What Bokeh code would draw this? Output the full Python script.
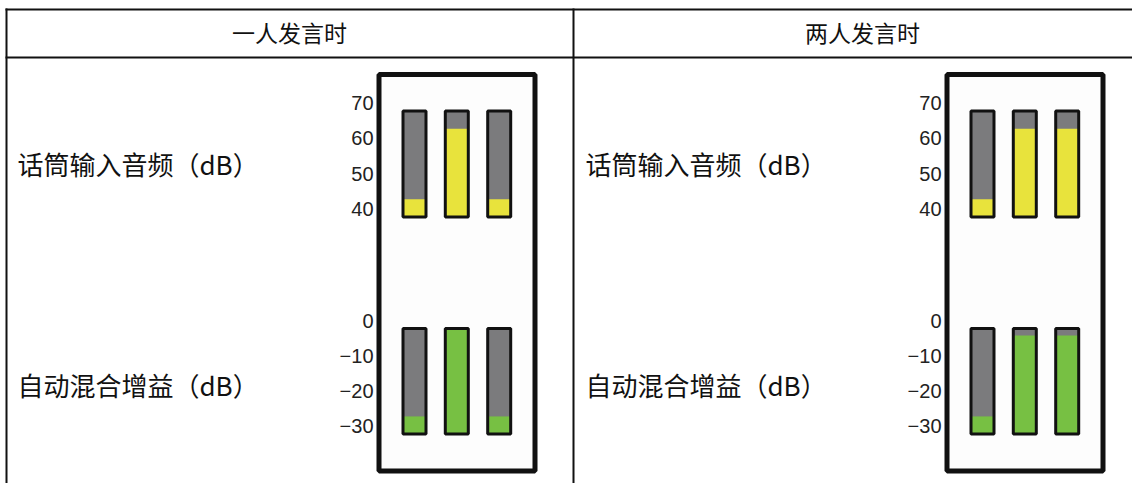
from bokeh.plotting import figure
from bokeh.models import Range1d
from bokeh.embed import file_html
from bokeh.resources import INLINE
from bokeh.core.properties import value

# ---------------- data ----------------
panel_titles = ["一人发言时", "两人发言时"]
row_labels = ["话筒输入音频（dB）", "自动混合增益（dB）"]

input_ticks = [70, 60, 50, 40]
input_tick_labels = ["70", "60", "50", "40"]
gain_ticks = [0, -10, -20, -30]
gain_tick_labels = ["0", "\u221210", "\u221220", "\u221230"]

input_range = [40, 70]
gain_range = [-30, 0]

# meter levels, three microphones per panel
input_one_talker = [45, 65, 45]
input_two_talkers = [45, 65, 65]
gain_one_talker = [-25, 0, -25]
gain_two_talkers = [-25, -2, -2]

# ---------------- layout (page pixels) ----------------
X0, Y0 = 0, 0
W, H = 1132, 483
PANEL_DX = 568

GRAY = "#7b7b7d"
YELLOW = "#e8e33c"
GREEN = "#77c043"
INK = "#111111"


def extra_range(v_lo, v_hi, y_lo, y_hi):
    k = (v_hi - v_lo) / (y_lo - y_hi)
    start = v_lo - (Y0 + H - y_lo) * k
    end = v_hi + (y_hi - Y0) * k
    return Range1d(start=start, end=end)


p = figure(width=W, height=H,
           x_range=Range1d(X0, X0 + W), y_range=Range1d(Y0 + H, Y0),
           output_backend="svg", toolbar_location=None, min_border=0,
           x_axis_location=None, y_axis_location=None)
p.grid.visible = False
p.outline_line_color = None
p.background_fill_color = "white"
p.border_fill_color = "white"

p.extra_y_ranges = {
    "input": extra_range(input_range[0], input_range[1], 216.5, 110.5),
    "gain": extra_range(gain_range[0], gain_range[1], 433.5, 328.0),
}

# table lines
p.segment(x0=[5, 5], y0=[9, 57], x1=[1140, 1140], y1=[9, 57], line_color=INK, line_width=2)
p.segment(x0=[6, 573], y0=[8, 8], x1=[6, 573], y1=[490, 490], line_color=INK, line_width=2)

# headers
p.text(x=[289, 862], y=[31, 31], text=panel_titles, text_font=value("Noto Sans CJK SC"),
       text_font_size="23px", text_align="center", text_baseline="middle", text_color=INK)

bar_offsets = [414.0, 456.3, 498.7]
half_w = 11.5

levels = {
    "input": [input_one_talker, input_two_talkers],
    "gain": [gain_one_talker, gain_two_talkers],
}
fills = {"input": YELLOW, "gain": GREEN}
ranges = {"input": input_range, "gain": gain_range}
ticks = {"input": (input_ticks, input_tick_labels), "gain": (gain_ticks, gain_tick_labels)}
label_y = {"input": 163, "gain": 384}

for i in range(2):
    dx = PANEL_DX * i
    # row labels
    p.text(x=[17 + dx, 17 + dx], y=[label_y["input"], label_y["gain"]], text=row_labels,
           text_font=value("Noto Sans CJK SC"), text_font_size="26px",
           text_align="left", text_baseline="middle", text_color=INK)
    # meter box
    p.quad(left=[378.5 + dx], right=[534.5 + dx], top=[74], bottom=[470.5],
           fill_color="#fdfdfd", line_color=INK, line_width=5)
    xs = [c + dx for c in bar_offsets]
    for key in ("input", "gain"):
        lo, hi = ranges[key]
        lv = levels[key][i]
        p.quad(left=[x - half_w for x in xs], right=[x + half_w for x in xs],
               bottom=[lo] * 3, top=[hi] * 3, fill_color=GRAY, line_color=None,
               y_range_name=key)
        p.quad(left=[x - half_w for x in xs], right=[x + half_w for x in xs],
               bottom=[lo] * 3, top=lv, fill_color=fills[key], line_color=None,
               y_range_name=key)
        p.quad(left=[x - half_w for x in xs], right=[x + half_w for x in xs],
               bottom=[lo] * 3, top=[hi] * 3, fill_color=None, line_color=INK,
               line_width=3, y_range_name=key)
        tv, tl = ticks[key]
        p.text(x=[373 + dx] * len(tv), y=tv, text=tl, y_range_name=key,
               text_font=value("Liberation Sans"), text_font_size="20px",
               text_align="right", text_baseline="middle", y_offset=-8,
               text_color="#222222")

open("out.html", "w").write(file_html(p, INLINE))
